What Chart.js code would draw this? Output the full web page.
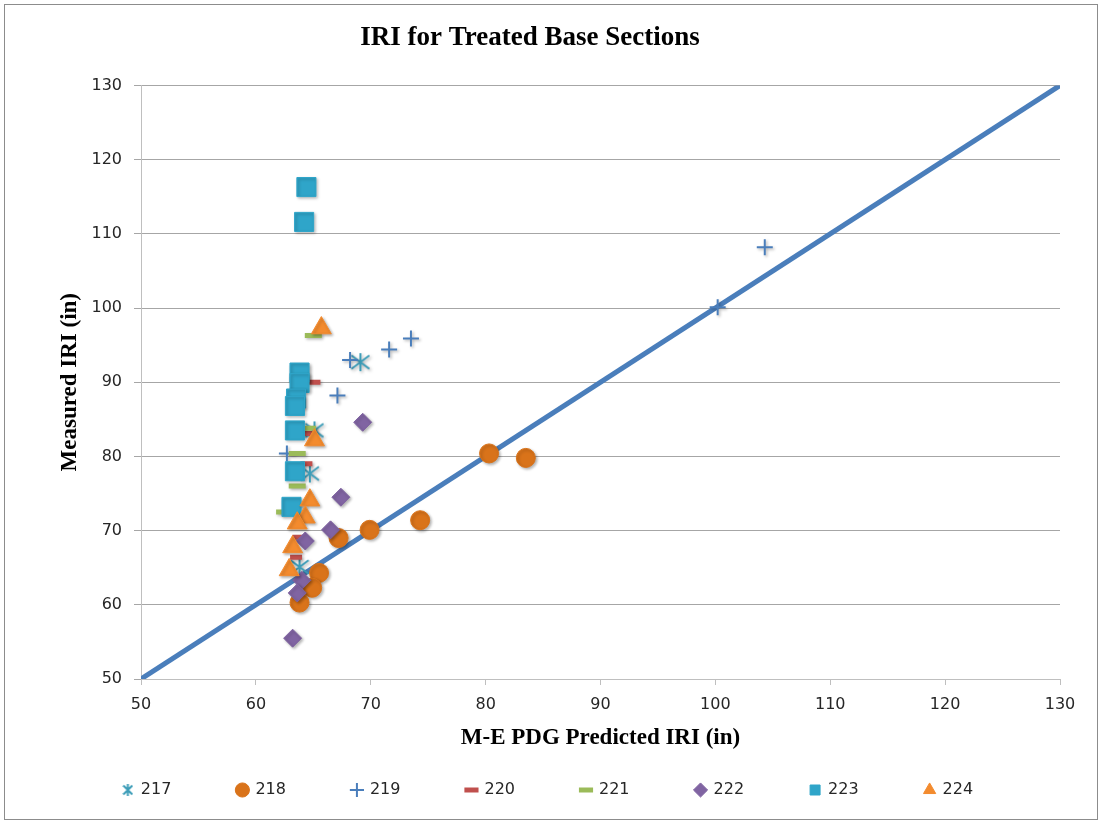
<!DOCTYPE html>
<html>
<head>
<meta charset="utf-8">
<script src="https://cdn.jsdelivr.net/npm/chart.js@4.4.1/dist/chart.umd.min.js"></script>
<style>
  body { margin: 0; background: #fff; }
  .wrap { position: relative; width: 1102px; height: 821px; }
  .frame { position: absolute; left: 4px; top: 4px; width: 1092px; height: 814px; border: 1px solid #8c8c8c; pointer-events: none; }
  canvas { position: absolute; left: 0; top: 0; }
</style>
</head>
<body>
<div class="wrap">
  <canvas id="chart" width="1102" height="821"></canvas>
  <div class="frame"></div>
</div>
<script>
// section names in legend order
const sections = ['217', '218', '219', '220', '221', '222', '223', '224'];

// [predicted, measured] pairs
const s217 = [[69.1, 92.7], [65.1, 83.5], [64.7, 77.7], [63.8, 65.1]];
const s218 = [[80.3, 80.4], [83.5, 79.8], [74.3, 71.4], [69.9, 70.1], [67.2, 69.0], [65.5, 64.3], [64.9, 62.3], [63.8, 60.3]];
const s219 = [[104.3, 108.2], [100.2, 100.1], [73.5, 95.9], [71.6, 94.4], [68.2, 93.0], [67.1, 88.2], [62.7, 80.4]];
const s220 = [[65.1, 90.0], [64.5, 83.1], [64.4, 79.0], [63.7, 69.1], [63.5, 66.4]];
const s221 = [[65.0, 96.3], [64.5, 83.8], [63.6, 80.4], [63.6, 76.0], [62.5, 72.5]];
const s222 = [[69.3, 84.6], [67.4, 74.5], [66.5, 70.1], [64.3, 68.6], [64.0, 63.3], [63.6, 61.6], [63.2, 55.5]];
const s223 = [[64.4, 116.3], [64.2, 111.6], [63.8, 91.3], [63.8, 89.9], [63.5, 87.8], [63.4, 86.8], [63.4, 83.5], [63.4, 78.0], [63.1, 73.2]];
const s224 = [[65.7, 97.3], [65.1, 82.2], [64.7, 74.1], [64.3, 71.8], [63.6, 71.0], [63.2, 67.8], [62.9, 64.7]];

// line of equality
const eqLine = [[50, 50], [130, 130]];

const axisTicks = [50, 60, 70, 80, 90, 100, 110, 120, 130];

const seriesData = [s217, s218, s219, s220, s221, s222, s223, s224];
const colors = ['#3d9db8', '#d9731a', '#4a7ebb', '#c0504d', '#9bbb59', '#8064a2', '#2fa5c9', '#f38b2e'];

// asterisk marker: an X with a vertical stroke
function asterisk(w, h, color) {
  const c = document.createElement('canvas');
  c.width = w; c.height = h;
  const g = c.getContext('2d');
  g.strokeStyle = color; g.lineWidth = 2;
  const mx = w / 2, my = h / 2, rx = w / 2 - 1, ry = h / 2 - 1;
  g.beginPath();
  g.moveTo(mx - rx, my - ry * 0.75); g.lineTo(mx + rx, my + ry * 0.75);
  g.moveTo(mx + rx, my - ry * 0.75); g.lineTo(mx - rx, my + ry * 0.75);
  g.moveTo(mx, my - ry); g.lineTo(mx, my + ry);
  g.stroke();
  return c;
}

const styles = [
  { pointStyle: asterisk(20, 20, colors[0]), pointRadius: 10, borderWidth: 2 },
  { pointStyle: 'circle', pointRadius: 9.5, borderWidth: 1 },
  { pointStyle: 'cross', pointRadius: 8, borderWidth: 2 },
  { pointStyle: 'line', pointRadius: 6, borderWidth: 5 },
  { pointStyle: 'line', pointRadius: 8.5, borderWidth: 5 },
  { pointStyle: 'rectRot', pointRadius: 9, borderWidth: 1 },
  { pointStyle: 'rect', pointRadius: 13.5, borderWidth: 1 },
  { pointStyle: 'triangle', pointRadius: 11.5, borderWidth: 1 },
];
const legendAsterisk = asterisk(11, 14, colors[0]);

const toXY = arr => arr.map(p => ({ x: p[0], y: p[1] }));

const datasets = sections.map((name, i) => ({
  type: 'scatter',
  label: name,
  data: toXY(seriesData[i]),
  backgroundColor: colors[i],
  borderColor: colors[i],
  pointStyle: styles[i].pointStyle,
  pointRadius: styles[i].pointRadius,
  pointHoverRadius: styles[i].pointRadius,
  pointBorderWidth: styles[i].borderWidth,
  borderWidth: styles[i].borderWidth,
  order: 8 - i,
}));

datasets.push({
  type: 'line',
  label: 'equality',
  data: toXY(eqLine),
  borderColor: '#4a7ebb',
  borderWidth: 5,
  pointRadius: 0,
  fill: false,
  order: 20,
});

const shadow = {
  id: 'shadow',
  beforeDatasetDraw(chart, args) {
    if (args.meta.type === 'line') return;
    const ctx = chart.ctx;
    ctx.save();
    ctx.shadowColor = 'rgba(0,0,0,0.3)';
    ctx.shadowBlur = 3;
    ctx.shadowOffsetX = 1.5;
    ctx.shadowOffsetY = 1.5;
  },
  afterDatasetDraw(chart, args) {
    if (args.meta.type === 'line') return;
    chart.ctx.restore();
  }
};

// legend padding spreads the items apart; pull the row back up under the axis title
const legendRow = {
  id: 'legendRow',
  afterLayout(chart) {
    const l = chart.legend;
    l.top = 782 - l.options.labels.padding;
    l.bottom = chart.height;
    l.height = l.bottom - l.top;
    l.left += 18;
    l.right += 18;
  }
};

const tickFont = { family: 'DejaVu Sans', size: 16 };
const titleFont = { family: 'Liberation Serif', size: 23, weight: 'bold' };

new Chart(document.getElementById('chart'), {
  data: { datasets },
  plugins: [shadow, legendRow],
  options: {
    responsive: false,
    animation: false,
    layout: { padding: { top: 0, left: 0, right: 42, bottom: 29 } },
    scales: {
      x: {
        type: 'linear',
        min: 50, max: 130,
        afterBuildTicks: s => { s.ticks = axisTicks.map(v => ({ value: v })); },
        afterFit: s => { s.height = 73; },
        ticks: { font: tickFont, color: '#262626', padding: 10 },
        grid: { drawOnChartArea: false, drawTicks: true, tickLength: 6, color: '#bfbfbf' },
        border: { display: true, color: '#bfbfbf' },
        title: { display: true, text: 'M-E PDG Predicted IRI (in)', font: titleFont, color: '#000', padding: { top: 0, bottom: 0 } },
      },
      y: {
        type: 'linear',
        min: 50, max: 130,
        afterBuildTicks: s => { s.ticks = axisTicks.map(v => ({ value: v })); },
        afterFit: s => { s.width = 141; },
        ticks: { font: tickFont, color: '#262626', padding: 12 },
        grid: { color: '#a6a6a6', tickLength: 7 },
        border: { display: true, color: '#bfbfbf' },
        title: { display: true, text: 'Measured IRI (in)', font: titleFont, color: '#000', padding: { top: 56, bottom: 0 } },
      },
    },
    plugins: {
      title: {
        display: true,
        text: 'IRI for Treated Base Sections',
        font: { family: 'Liberation Serif', size: 27, weight: 'bold' },
        color: '#000',
        padding: { top: 22, bottom: 31 },
      },
      legend: {
        position: 'bottom',
        maxHeight: 40,
        labels: {
          filter: item => item.text !== 'equality',
          sort: (a, b) => a.datasetIndex - b.datasetIndex,
          generateLabels: chart => {
            const items = Chart.defaults.plugins.legend.labels.generateLabels(chart);
            items.forEach(it => { if (it.datasetIndex === 0) it.pointStyle = legendAsterisk; });
            return items;
          },
          usePointStyle: true,
          boxWidth: 10, boxHeight: 10,
          padding: 66,
          font: { family: 'DejaVu Sans', size: 16 },
          color: '#262626',
        },
      },
      tooltip: { enabled: false },
    },
  },
});
</script>
</body>
</html>
